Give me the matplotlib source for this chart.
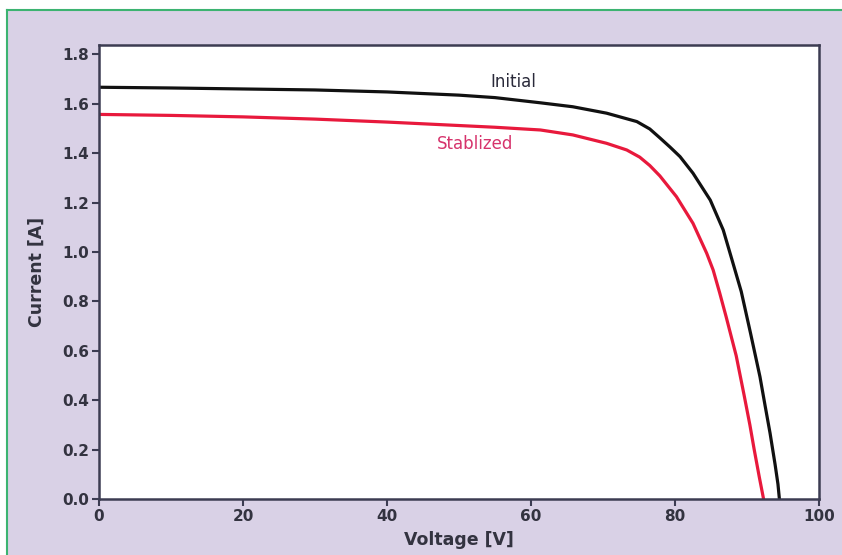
import matplotlib
matplotlib.use('Agg')
import matplotlib.pyplot as plt
from matplotlib.patches import Rectangle

# I-V curves
v_initial = [0, 10, 20, 30, 40, 50, 55, 61.3, 65.8, 70.5, 74.7, 76.5, 77.9, 79.3, 80.7,
             82.5, 84.9, 86.7, 87.9, 89.2, 90.5, 91.8, 92.5, 93.2, 93.9, 94.3, 94.5]
i_initial = [1.667, 1.664, 1.660, 1.656, 1.648, 1.635, 1.625, 1.604, 1.588, 1.562, 1.528,
             1.498, 1.462, 1.425, 1.386, 1.319, 1.210, 1.089, 0.970, 0.840, 0.670,
             0.495, 0.380, 0.267, 0.140, 0.060, 0.0]

v_stab = [0, 10, 20, 30, 40, 50, 55, 61.3, 65.8, 70.5, 73.3, 75.1, 76.5, 77.9, 80.2,
          82.5, 84.4, 85.3, 86.2, 87.1, 88.5, 89.6, 90.4, 91.0, 91.7, 92.1, 92.3]
i_stab = [1.557, 1.553, 1.547, 1.538, 1.526, 1.512, 1.505, 1.494, 1.474, 1.440, 1.413,
          1.384, 1.350, 1.308, 1.224, 1.116, 0.995, 0.927, 0.835, 0.738, 0.580, 0.420,
          0.300, 0.200, 0.090, 0.030, 0.0]

x_ticks = [0, 20, 40, 60, 80, 100]
y_ticks = [0.0, 0.2, 0.4, 0.6, 0.8, 1.0, 1.2, 1.4, 1.6, 1.8]

bg = '#d9d1e6'
frame = '#3c3c52'
txt = '#333340'

fig = plt.figure(figsize=(8.42, 5.55), dpi=100)
fig.patch.set_facecolor('white')
# lavender panel with green top/left border
fig.patches.append(Rectangle((7 / 842, 0), 1, 1 - 10 / 555, transform=fig.transFigure,
                             facecolor=bg, edgecolor='none', zorder=-10))
fig.add_artist(plt.Line2D([7 / 842, 1], [1 - 10 / 555, 1 - 10 / 555], color='#3cb371',
                          lw=1.5, transform=fig.transFigure, zorder=-5))
fig.add_artist(plt.Line2D([7 / 842, 7 / 842], [0, 1 - 10 / 555], color='#3cb371',
                          lw=1.5, transform=fig.transFigure, zorder=-5))

ax = fig.add_axes([99 / 842, 56 / 555, 720 / 842, 454 / 555])
ax.set_facecolor('white')

ax.plot(v_initial, i_initial, color='#111111', lw=2.3, solid_joinstyle='round')
ax.plot(v_stab, i_stab, color='#e8193c', lw=2.3, solid_joinstyle='round')

ax.text(57.5, 1.69, 'Initial', color='#2a2a3a', fontsize=12, ha='center', va='center')
ax.text(52.2, 1.437, 'Stablized', color='#d6336c', fontsize=12, ha='center', va='center')

ax.set_xlim(0, 100)
ax.set_ylim(0, 1.838)
ax.set_xticks(x_ticks)
ax.set_yticks(y_ticks)
ax.set_yticklabels(['%.1f' % t for t in y_ticks])

for s in ax.spines.values():
    s.set_color(frame)
    s.set_linewidth(1.8)
ax.tick_params(direction='out', length=5, width=1.5, color=frame, labelcolor=txt,
               labelsize=11, pad=2)
for lbl in ax.get_xticklabels() + ax.get_yticklabels():
    lbl.set_fontweight('bold')

ax.set_xlabel('Voltage [V]', fontsize=12.5, fontweight='bold', color=txt, labelpad=5)
ax.set_ylabel('Current [A]', fontsize=12.5, fontweight='bold', color=txt, labelpad=12)

fig.savefig('out.png', dpi=100, facecolor=fig.get_facecolor())
